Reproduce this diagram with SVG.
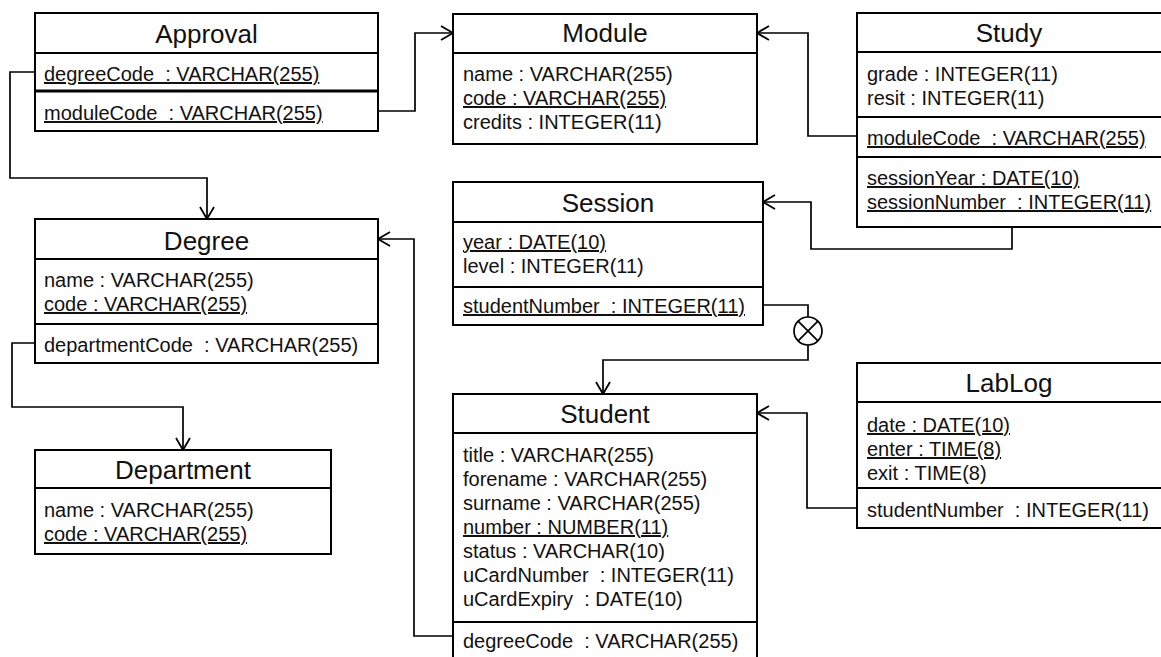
<svg xmlns="http://www.w3.org/2000/svg" width="1161" height="657" viewBox="0 0 1161 657">
  <style>
    .box { fill: #ffffff; stroke: #000000; stroke-width: 2; }
    .sep { stroke: #000000; stroke-width: 2; }
    .sep2 { stroke: #000000; stroke-width: 3; }
    .title { font-family: "Liberation Sans", Arial, sans-serif; font-size: 26px; fill: #111111; text-anchor: middle; }
    .attr { font-family: "Liberation Sans", Arial, sans-serif; font-size: 20px; fill: #111111; }
    .key { text-decoration: underline; }
    .conn { fill: none; stroke: #000000; stroke-width: 1.7; }
  </style>
  <defs>
    <marker id="open" markerUnits="userSpaceOnUse" markerWidth="16" markerHeight="18" refX="13" refY="8" orient="auto">
      <path d="M1,1 L13,8 L1,15" fill="none" stroke="#000000" stroke-width="1.8"/>
    </marker>
  </defs>
  <rect width="1161" height="657" fill="#ffffff"/>

  <!-- connectors -->
  <g id="connectors">
    <path class="conn" d="M35,72 H10 V178 H207 V219" marker-end="url(#open)"/>
    <path class="conn" d="M378,111 H415 V33 H453" marker-end="url(#open)"/>
    <path class="conn" d="M857,136 H808 V33 H757" marker-end="url(#open)"/>
    <path class="conn" d="M1012,227 V249 H811 V202 H763" marker-end="url(#open)"/>
    <path class="conn" d="M35,343 H12 V407 H183 V450" marker-end="url(#open)"/>
    <path class="conn" d="M453,636 H414 V239 H378" marker-end="url(#open)"/>
    <path class="conn" d="M763,305 H808 V317"/>
    <path class="conn" d="M808,345 V360 H603 V394" marker-end="url(#open)"/>
    <path class="conn" d="M857,508 H807 V413 H757" marker-end="url(#open)"/>
    <g id="xor">
      <circle class="conn" cx="808" cy="331" r="14"/>
      <path class="conn" d="M798.1,321.1 L817.9,340.9 M817.9,321.1 L798.1,340.9"/>
    </g>
  </g>

  <g id="approval">
    <rect class="box" x="35" y="13" width="343" height="118"/>
    <line class="sep" x1="35" y1="53" x2="378" y2="53"/>
    <line class="sep2" x1="35" y1="91" x2="378" y2="91"/>
    <text class="title" x="206.5" y="43">Approval</text>
    <text class="attr key" x="44" y="81" xml:space="preserve">degreeCode  : VARCHAR(255)</text>
    <text class="attr key" x="44" y="120" xml:space="preserve">moduleCode  : VARCHAR(255)</text>
  </g>

  <g id="module">
    <rect class="box" x="453" y="14" width="304" height="130"/>
    <line class="sep" x1="453" y1="53" x2="757" y2="53"/>
    <text class="title" x="605" y="42">Module</text>
    <text class="attr" x="463" y="81">name : VARCHAR(255)</text>
    <text class="attr key" x="463" y="105">code : VARCHAR(255)</text>
    <text class="attr" x="463" y="129">credits : INTEGER(11)</text>
  </g>

  <g id="study">
    <rect class="box" x="857" y="13" width="320" height="214"/>
    <line class="sep" x1="857" y1="52" x2="1177" y2="52"/>
    <line class="sep" x1="857" y1="117" x2="1177" y2="117"/>
    <line class="sep" x1="857" y1="157" x2="1177" y2="157"/>
    <text class="title" x="1009" y="42">Study</text>
    <text class="attr" x="867" y="81">grade : INTEGER(11)</text>
    <text class="attr" x="867" y="105">resit : INTEGER(11)</text>
    <text class="attr key" x="867" y="145" xml:space="preserve">moduleCode  : VARCHAR(255)</text>
    <text class="attr key" x="867" y="185">sessionYear : DATE(10)</text>
    <text class="attr key" x="867" y="209" xml:space="preserve">sessionNumber  : INTEGER(11)</text>
  </g>

  <g id="session">
    <rect class="box" x="453" y="182" width="310" height="143"/>
    <line class="sep" x1="453" y1="222" x2="763" y2="222"/>
    <line class="sep" x1="453" y1="287" x2="763" y2="287"/>
    <text class="title" x="608" y="212">Session</text>
    <text class="attr key" x="463" y="249">year : DATE(10)</text>
    <text class="attr" x="463" y="273">level : INTEGER(11)</text>
    <text class="attr key" x="463" y="313" xml:space="preserve">studentNumber  : INTEGER(11)</text>
  </g>

  <g id="degree">
    <rect class="box" x="35" y="219" width="343" height="144"/>
    <line class="sep" x1="35" y1="259" x2="378" y2="259"/>
    <line class="sep" x1="35" y1="324" x2="378" y2="324"/>
    <text class="title" x="206.5" y="250">Degree</text>
    <text class="attr" x="44" y="287">name : VARCHAR(255)</text>
    <text class="attr key" x="44" y="311">code : VARCHAR(255)</text>
    <text class="attr" x="44" y="352" xml:space="preserve">departmentCode  : VARCHAR(255)</text>
  </g>

  <g id="department">
    <rect class="box" x="35" y="450" width="296" height="104"/>
    <line class="sep" x1="35" y1="488" x2="331" y2="488"/>
    <text class="title" x="183" y="479">Department</text>
    <text class="attr" x="44" y="517">name : VARCHAR(255)</text>
    <text class="attr key" x="44" y="541">code : VARCHAR(255)</text>
  </g>

  <g id="student">
    <rect class="box" x="453" y="394" width="304" height="280"/>
    <line class="sep" x1="453" y1="433" x2="757" y2="433"/>
    <line class="sep" x1="453" y1="622" x2="757" y2="622"/>
    <text class="title" x="605" y="423">Student</text>
    <text class="attr" x="463" y="462">title : VARCHAR(255)</text>
    <text class="attr" x="463" y="486">forename : VARCHAR(255)</text>
    <text class="attr" x="463" y="510">surname : VARCHAR(255)</text>
    <text class="attr key" x="463" y="534">number : NUMBER(11)</text>
    <text class="attr" x="463" y="558">status : VARCHAR(10)</text>
    <text class="attr" x="463" y="582" xml:space="preserve">uCardNumber  : INTEGER(11)</text>
    <text class="attr" x="463" y="606" xml:space="preserve">uCardExpiry  : DATE(10)</text>
    <text class="attr" x="463" y="648" xml:space="preserve">degreeCode  : VARCHAR(255)</text>
  </g>

  <g id="lablog">
    <rect class="box" x="857" y="363" width="320" height="165"/>
    <line class="sep" x1="857" y1="402" x2="1177" y2="402"/>
    <line class="sep" x1="857" y1="488" x2="1177" y2="488"/>
    <text class="title" x="1009" y="392">LabLog</text>
    <text class="attr key" x="867" y="432">date : DATE(10)</text>
    <text class="attr key" x="867" y="456">enter : TIME(8)</text>
    <text class="attr" x="867" y="480">exit : TIME(8)</text>
    <text class="attr" x="867" y="517" xml:space="preserve">studentNumber  : INTEGER(11)</text>
  </g>
</svg>
